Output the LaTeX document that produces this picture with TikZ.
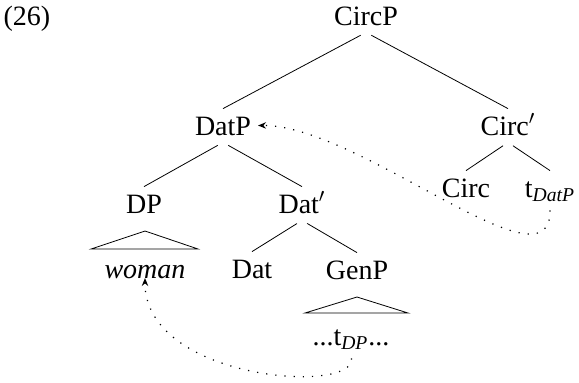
\documentclass[tikz,border=0pt]{standalone}
\usepackage{fontspec}
\setmainfont{Liberation Serif}
\usetikzlibrary{arrows.meta}
\begin{document}
\begin{tikzpicture}[x=0.5pt, y=-0.5pt, font=\fontsize{14}{17}\selectfont,
        every node/.style={inner xsep=3.3pt, inner ysep=3.5pt, text height=9.5pt, text depth=0pt},
        branch/.style={shorten <=3pt},
        move/.style={loosely dotted, line width=0.6pt, shorten <=3pt, -{Stealth[length=4pt,width=3.2pt]}}]
            \useasboundingbox (0,0) rectangle (579,382);

            % Nodes with manual coordinates
            \node (ex) at (27,15.5) {(26)};
            \node (circp) at (366,15.5) {CircP};
            \node (datp) at (223,125.5) {DatP};
            \node (circb) at (508,125.5) {Circ$'$};
            \node (circ) at (466,187.5) {Circ};
            \node (tdatp) at (550,187.5) {t\textsubscript{\itshape DatP}};
            \node (dp) at (144,203.5) {DP};
            \node (datb) at (302,203.5) {Dat$'$};
            \node (woman) at (145,268.5) {\itshape woman};
            \node (dat) at (252,268.5) {Dat};
            \node (genp) at (357,269.5) {GenP};
            \node (tdp) at (351,335.5) {...t\textsubscript{\itshape DP}...};

            % Roof corners
            \coordinate (dptop) at (145,231);
            \coordinate (dpl) at (91,249);
            \coordinate (dpr) at (198,249);
            \coordinate (gentop) at (357,297);
            \coordinate (genl) at (305,313);
            \coordinate (genr) at (408,313);

            % Edges
            \draw[branch] (circp.south) -- (datp.north);
            \draw[branch] (circp.south) -- (circb.north);
            \draw[branch] (circb.south) -- (circ.north);
            \draw[branch] (circb.south) -- (tdatp.north);
            \draw[branch] (datp.south) -- (dp.north);
            \draw[branch] (datp.south) -- (datb.north);
            \draw[branch] (datb.south) -- (dat.north);
            \draw[branch] (datb.south) -- (genp.north);

            % Roofs
            \draw (dptop) -- (dpl) -- (dpr) -- cycle;
            \draw (gentop) -- (genl) -- (genr) -- cycle;

            % Movement arrows
            \draw[move] (tdatp.south) .. controls (551,295) and (360,125) .. (datp.east);
            \draw[move] (tdp.south) .. controls (355,395) and (145,380) .. (woman.base);
        \end{tikzpicture}
\end{document}
